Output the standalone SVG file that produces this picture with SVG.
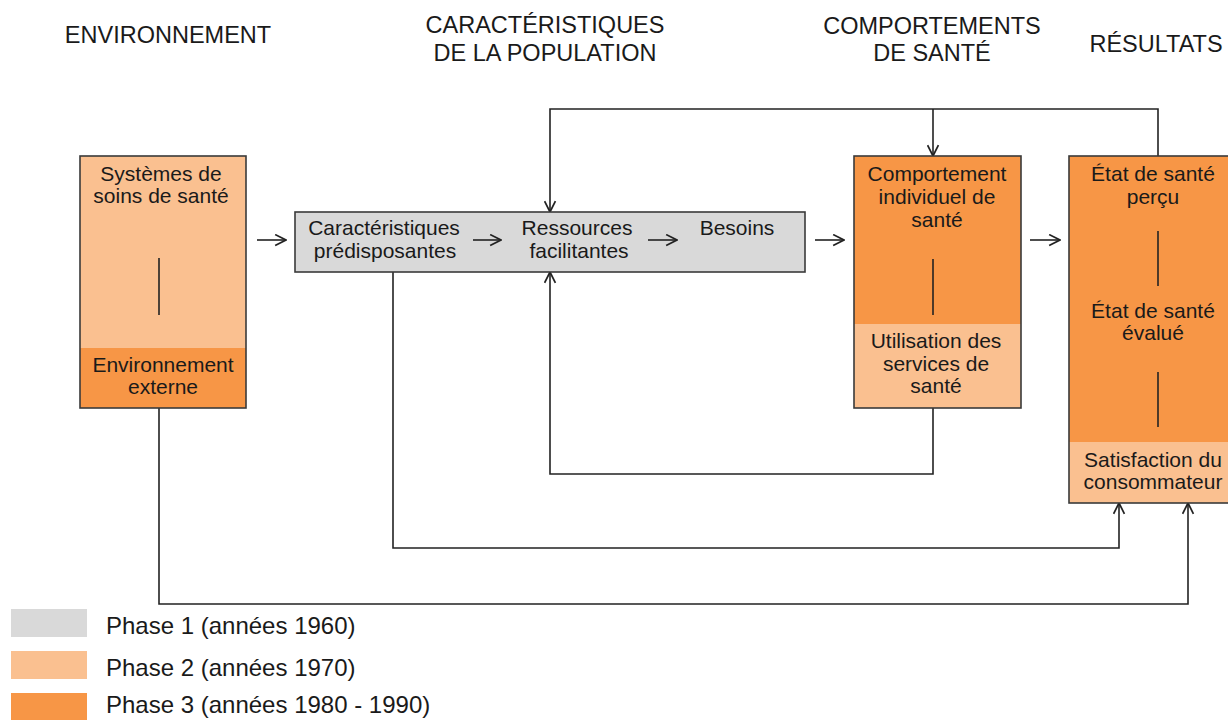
<svg xmlns="http://www.w3.org/2000/svg" width="1228" height="720" viewBox="0 0 1228 720">
<style>
text{font-family:"Liberation Sans",Arial,sans-serif;fill:#1a1a1a}
.h{font-size:23.5px}
.t{font-size:21px;text-anchor:middle}
.lg{font-size:24px}
.box{stroke:#3a3a3a;stroke-width:1.6}
.light{fill:#FAC090}
.dark{fill:#F79646}
.gray{fill:#D9D9D9}
.ln{stroke:#222;stroke-width:1.6;fill:none}
.ar{stroke:#222;stroke-width:1.6;fill:none;marker-end:url(#ah)}
</style>
<defs>
<marker id="ah" viewBox="0 0 12 12" refX="11" refY="6" markerWidth="13" markerHeight="13" markerUnits="userSpaceOnUse" orient="auto">
<path d="M1,1 L11,6 L1,11" fill="none" stroke="#222" stroke-width="1.6"/>
</marker>
</defs>
<rect width="1228" height="720" fill="#fff"/>
<g id="headers">
<text class="h" x="168" y="43" text-anchor="middle">ENVIRONNEMENT</text>
<text class="h" x="545" y="33" text-anchor="middle">CARACTÉRISTIQUES</text>
<text class="h" x="545" y="61" text-anchor="middle">DE LA POPULATION</text>
<text class="h" x="932" y="34" text-anchor="middle">COMPORTEMENTS</text>
<text class="h" x="932" y="61" text-anchor="middle">DE SANTÉ</text>
<text class="h" x="1156" y="52" text-anchor="middle">RÉSULTATS</text>
</g>
<g id="connectors">
<polyline class="ar" points="1158,156 1158,109 550,109 550,212"/>
<line class="ar" x1="933" y1="109" x2="933" y2="156"/>
<polyline class="ar" points="933,408 933,474 550,474 550,272"/>
<polyline class="ar" points="393,272 393,548 1119,548 1119,503"/>
<polyline class="ar" points="159,408 159,604 1188,604 1188,503"/>
<line class="ar" x1="257" y1="240" x2="286" y2="240"/>
<line class="ar" x1="815" y1="240" x2="844" y2="240"/>
<line class="ar" x1="1030" y1="240" x2="1060" y2="240"/>
</g>
<g id="environnement">
<rect class="light" x="80" y="156" width="166" height="192"/>
<rect class="dark" x="80" y="348" width="166" height="60"/>
<rect class="box" x="80" y="156" width="166" height="252" fill="none"/>
<line class="ln" x1="159" y1="258" x2="159" y2="315"/>
<text class="t" x="161" y="181">Systèmes de</text>
<text class="t" x="161" y="203">soins de santé</text>
<text class="t" x="163" y="372">Environnement</text>
<text class="t" x="163" y="394">externe</text>
</g>
<g id="population">
<rect class="gray box" x="295" y="212" width="510" height="60"/>
<text class="t" x="384" y="235">Caractéristiques</text>
<text class="t" x="385" y="258">prédisposantes</text>
<text class="t" x="577" y="235">Ressources</text>
<text class="t" x="579" y="258">facilitantes</text>
<text class="t" x="737" y="235">Besoins</text>
<line class="ar" x1="473" y1="240" x2="501" y2="240"/>
<line class="ar" x1="648" y1="240" x2="677" y2="240"/>
</g>
<g id="comportement">
<rect class="dark" x="854" y="156" width="167" height="168"/>
<rect class="light" x="854" y="324" width="167" height="84"/>
<rect class="box" x="854" y="156" width="167" height="252" fill="none"/>
<line class="ln" x1="933" y1="259" x2="933" y2="315"/>
<text class="t" x="937" y="181">Comportement</text>
<text class="t" x="937" y="204">individuel de</text>
<text class="t" x="937" y="227">santé</text>
<text class="t" x="936" y="348">Utilisation des</text>
<text class="t" x="936" y="371">services de</text>
<text class="t" x="936" y="393">santé</text>
</g>
<g id="resultats">
<rect class="dark" x="1069" y="156" width="180" height="286"/>
<rect class="light" x="1069" y="442" width="180" height="61"/>
<rect class="box" x="1069" y="156" width="180" height="347" fill="none"/>
<line class="ln" x1="1158" y1="231" x2="1158" y2="286"/>
<line class="ln" x1="1158" y1="372" x2="1158" y2="427"/>
<text class="t" x="1153" y="181">État de santé</text>
<text class="t" x="1153" y="204">perçu</text>
<text class="t" x="1153" y="318">État de santé</text>
<text class="t" x="1153" y="340">évalué</text>
<text class="t" x="1153" y="467">Satisfaction du</text>
<text class="t" x="1153" y="489">consommateur</text>
</g>
<g id="legend">
<rect class="gray" x="11" y="609" width="76" height="28"/>
<rect class="light" x="11" y="651" width="76" height="28"/>
<rect class="dark" x="11" y="693" width="76" height="27"/>
<text class="lg" x="106" y="634">Phase 1 (années 1960)</text>
<text class="lg" x="106" y="676">Phase 2 (années 1970)</text>
<text class="lg" x="106" y="713">Phase 3 (années 1980 - 1990)</text>
</g>
</svg>
